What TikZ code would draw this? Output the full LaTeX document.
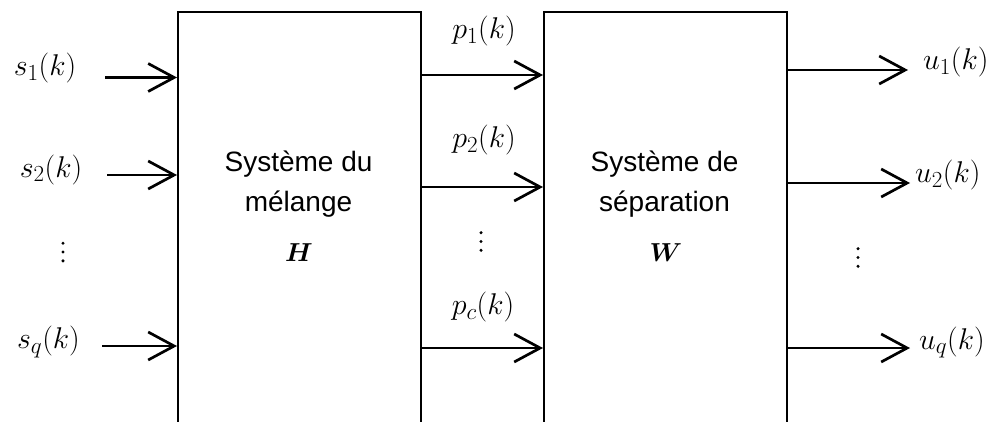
\RequirePackage{fix-cm}
\documentclass[tikz,border=0pt]{standalone}
\usepackage[no-math]{fontspec}
\setmainfont{Liberation Sans}
\usepackage{bm}
\usetikzlibrary{arrows.meta}
\DeclareMathSizes{30}{30}{23}{18}
\begin{document}
\begin{tikzpicture}[x=1pt,y=-1pt,
  block/.style={draw,line width=2pt,inner sep=0pt,minimum width=243pt,minimum height=440pt,anchor=north west},
  sig/.style={inner sep=0pt,text height=0.75em,text depth=0.25em,font=\fontsize{30}{30}\selectfont},
  blocktext/.style={inner sep=0pt,anchor=base,font=\fontsize{28}{39}\selectfont},
  matname/.style={inner sep=0pt,font=\fontsize{26}{26}\selectfont},
  arr/.style={line width=2.7pt,-{Straight Barb[length=26pt,width=28pt]}},
  dot/.style={fill=black}]
\useasboundingbox (0,0) rectangle (1003,421);

% the two blocks, open towards the bottom
\node[block] (mix) at (177,11) {};
\node[block] (sep) at (543,11) {};

% block captions
\node[blocktext] (mixa) at (298.5,171.7) {Système du};
\node[blocktext] (mixb) at (298.5,211.5) {mélange};
\node[matname] (H) at (299,253) {$\bm{H}$};
\node[blocktext] (sepa) at (664.5,171.7) {Système de};
\node[blocktext] (sepb) at (664.5,211.5) {séparation};
\node[matname] (W) at (666,253) {$\bm{W}$};

% sources
\node[sig] (s1) at (45,73) {$s_1(k)$};
\node[sig] (s2) at (51,174.5) {$s_2(k)$};
\node[sig] (sq) at (48.5,346) {$s_q(k)$};
\coordinate (s1a) at (105,77.5);
\coordinate (s2a) at (107,175);
\coordinate (sqa) at (102,346);
\draw[arr] (s1a) -- (s1a -| mix.west);
\draw[arr] (s2a) -- (s2a -| mix.west);
\draw[arr] (sqa) -- (sqa -| mix.west);

% mixtures
\node[sig] (p1) at (484,36) {$p_1(k)$};
\node[sig] (p2) at (484,145) {$p_2(k)$};
\node[sig] (pc) at (483,312) {$p_c(k)$};
\coordinate (p1a) at (420,75);
\coordinate (p2a) at (420,187);
\coordinate (pca) at (420,348);
\draw[arr] (p1a -| mix.east) -- (p1a -| sep.west);
\draw[arr] (p2a -| mix.east) -- (p2a -| sep.west);
\draw[arr] (pca -| mix.east) -- (pca -| sep.west);

% outputs
\coordinate (u1e) at (908,70);
\coordinate (u2e) at (910,183);
\coordinate (uqe) at (910,348);
\draw[arr] (u1e -| sep.east) -- (u1e);
\draw[arr] (u2e -| sep.east) -- (u2e);
\draw[arr] (uqe -| sep.east) -- (uqe);
\node[sig,anchor=west] (u1) at (923,67) {$u_1(k)$};
\node[sig,anchor=west] (u2) at (915,180) {$u_2(k)$};
\node[sig,anchor=west] (uq) at (919,346.5) {$u_q(k)$};

% vertical ellipses
\foreach \cx/\cy in {63/252, 481/241.5, 858/257.5} {
  \fill[dot] (\cx,\cy-8.8) circle (1.7pt);
  \fill[dot] (\cx,\cy) circle (1.7pt);
  \fill[dot] (\cx,\cy+8.8) circle (1.7pt);
}
\end{tikzpicture}
\end{document}
